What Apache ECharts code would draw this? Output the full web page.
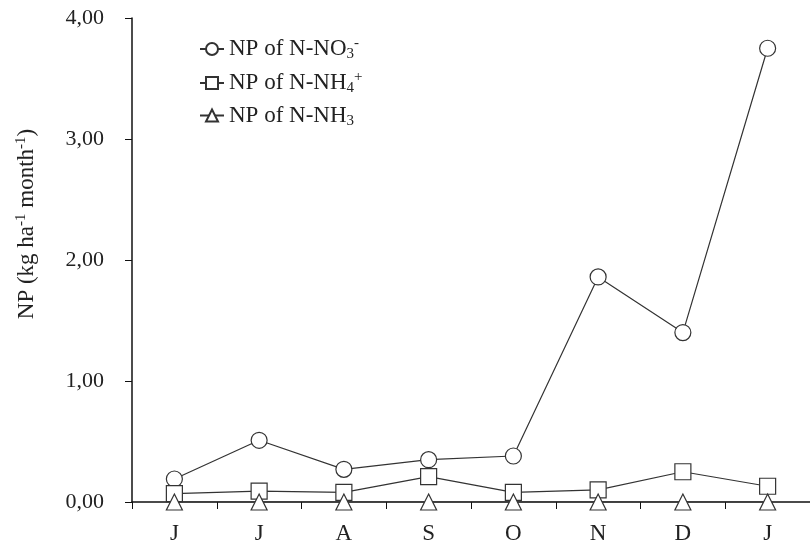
<!DOCTYPE html>
<html>
<head>
<meta charset="utf-8">
<script src="https://cdn.jsdelivr.net/npm/echarts@6/dist/echarts.min.js"></script>
<style>
  html, body { margin: 0; padding: 0; background: #fff; }
  #chart { width: 810px; height: 546px; }
</style>
</head>
<body>
<div id="chart"></div>
<script>
// Months (June to January)
var months = ['J', 'J', 'A', 'S', 'O', 'N', 'D', 'J'];
// Monthly N losses, kg ha-1 month-1
var no3 = [0.19, 0.51, 0.27, 0.35, 0.38, 1.86, 1.40, 3.75];
var nh4 = [0.07, 0.09, 0.08, 0.21, 0.08, 0.10, 0.25, 0.13];
var nh3 = [0, 0, 0, 0, 0, 0, 0, 0];
var yTicks = [0, 1, 2, 3, 4];

var serif = '"Liberation Serif", "DejaVu Serif", serif';
var ink = '#333';
var txt = '#222';

function series(name, data, symbol, size) {
  return {
    name: name,
    type: 'line',
    data: data,
    symbol: symbol,
    symbolSize: size,
    showAllSymbol: true,
    lineStyle: { color: ink, width: 1.2 },
    itemStyle: { color: '#fff', borderColor: ink, borderWidth: 1.2 },
    emphasis: { disabled: true },
    animation: false
  };
}

var chart = echarts.init(document.getElementById('chart'));
chart.setOption({
  backgroundColor: '#fff',
  animation: false,
  grid: { left: 132, top: 18, bottom: 44, right: -8, containLabel: false },
  legend: {
    left: 194,
    top: 31,
    orient: 'vertical',
    itemGap: 8,
    itemWidth: 24,
    itemHeight: 15,
    textStyle: {
      fontFamily: serif,
      fontSize: 23,
      color: txt,
      rich: {
        a: { fontFamily: serif, fontSize: 23, color: txt },
        sub: { fontFamily: serif, fontSize: 15, color: txt, verticalAlign: 'bottom', padding: [11, 0, 0, 0] },
        sup: { fontFamily: serif, fontSize: 15, color: txt, verticalAlign: 'top', padding: [0, 0, 11, 0] }
      }
    },
    formatter: function (name) {
      if (name === 'no3') return '{a|NP of N-NO}{sub|3}{sup|-}';
      if (name === 'nh4') return '{a|NP of N-NH}{sub|4}{sup|+}';
      return '{a|NP of N-NH}{sub|3}';
    },
    data: ['no3', 'nh4', 'nh3']
  },
  xAxis: {
    type: 'category',
    data: months,
    boundaryGap: true,
    axisLine: { lineStyle: { color: '#111', width: 1.5 } },
    axisTick: { show: true, length: 7, lineStyle: { color: '#111', width: 1 } },
    axisLabel: { fontFamily: serif, fontSize: 23, color: txt, margin: 20 },
    splitLine: { show: false }
  },
  yAxis: {
    type: 'value',
    min: yTicks[0],
    max: yTicks[yTicks.length - 1],
    interval: 1,
    axisLine: { show: true, lineStyle: { color: '#111', width: 1.5 } },
    axisTick: { show: true, length: 7, lineStyle: { color: '#111', width: 1 } },
    axisLabel: {
      fontFamily: serif, fontSize: 22, color: txt, margin: 28,
      formatter: function (v) { return v.toFixed(2).replace('.', ','); }
    },
    splitLine: { show: false },
    name: '{a|NP (kg ha}{sup|-1}{a| month}{sup|-1}{a|)}',
    nameLocation: 'middle',
    nameGap: 92,
    nameRotate: 90,
    nameTextStyle: {
      fontFamily: serif, fontSize: 23, color: txt,
      padding: [0, 0, 0, 72],
      rich: {
        a: { fontFamily: serif, fontSize: 23, color: txt },
        sup: { fontFamily: serif, fontSize: 15, color: txt, verticalAlign: 'top', padding: [0, 0, 11, 0] }
      }
    }
  },
  series: [
    series('no3', no3, 'circle', 16),
    series('nh4', nh4, 'rect', 16),
    series('nh3', nh3, 'triangle', 16)
  ]
});
</script>
</body>
</html>
